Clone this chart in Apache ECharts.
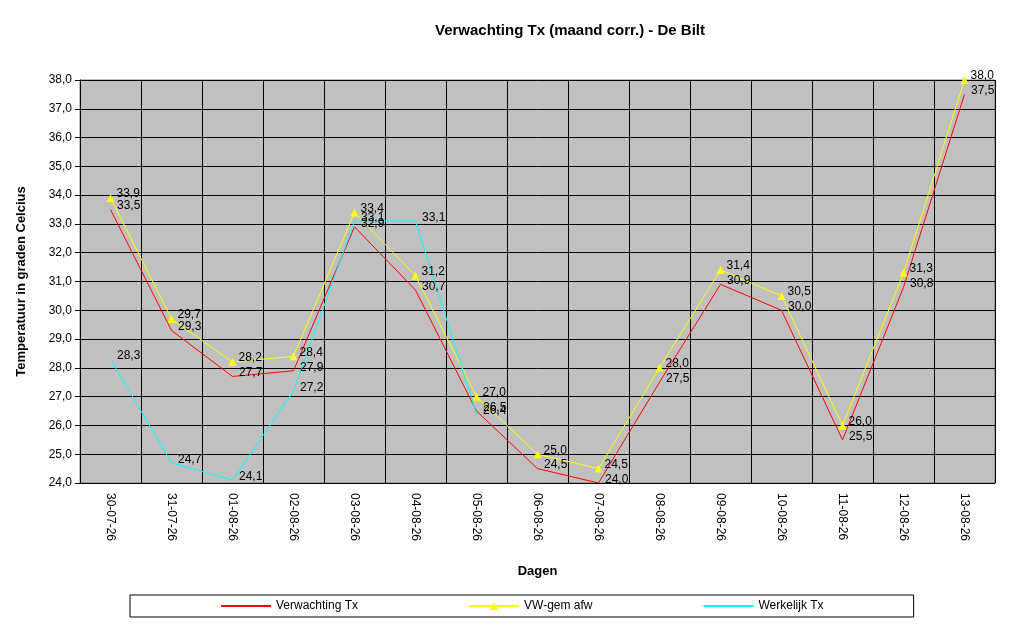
<!DOCTYPE html>
<html><head><meta charset="utf-8">
<script src="https://cdn.jsdelivr.net/npm/echarts@6/dist/echarts.min.js"></script>
<style>html,body{margin:0;padding:0;background:#fff}#c{width:1024px;height:625px}</style>
</head><body><div id="c"></div>
<script>
var dagen = ["30-07-26","31-07-26","01-08-26","02-08-26","03-08-26","04-08-26","05-08-26","06-08-26","07-08-26","08-08-26","09-08-26","10-08-26","11-08-26","12-08-26","13-08-26"];
var verwachting = [33.5,29.3,27.7,27.9,32.9,30.7,26.5,24.5,24.0,27.5,30.9,30.0,25.5,30.8,37.5];
var vwGem = [33.9,29.7,28.2,28.4,33.4,31.2,27.0,25.0,24.5,28.0,31.4,30.5,26.0,31.3,38.0];
var werkelijk = [28.3,24.7,24.1,27.2,33.1,33.1,26.4,null,null,null,null,null,null,null,null];

var chart = echarts.init(document.getElementById("c"));
var fmt = function (v) { return v.toFixed(1).replace(".", ","); };
function serie(name, data, color, symbol, size) {
	return {
		name: name, type: "line", data: data, symbol: symbol, symbolSize: size,
		lineStyle: { color: color, width: 1 }, itemStyle: { color: color },
		label: { show: true, position: [10, -6], fontSize: 12, color: "#000", fontFamily: "Liberation Sans",
			formatter: function (p) { return fmt(p.value); } },
		animation: false
	};
}
var cross = "path://M0,0L10,10M10,0L0,10";
chart.setOption({
	title: { text: "Verwachting Tx (maand corr.) - De Bilt", left: 565, top: 18, textAlign: "center",
		textStyle: { fontSize: 15, fontWeight: "bold", fontFamily: "Liberation Sans", color: "#000" } },
	grid: { left: 80, right: 29, top: 80, bottom: 142, backgroundColor: "#C0C0C0", show: true, borderColor: "#808080" },
	legend: { bottom: 8, left: 130, width: 815, itemGap: 110, itemWidth: 50, itemHeight: 10,
		borderColor: "#000", borderWidth: 1, borderRadius: 0, padding: [5, 90, 5, 90],
		textStyle: { fontSize: 12, fontFamily: "Liberation Sans", color: "#000" } },
	xAxis: { type: "category", data: dagen, boundaryGap: true,
		name: "Dagen", nameLocation: "middle", nameGap: 82,
		nameTextStyle: { fontWeight: "bold", fontSize: 13, fontFamily: "Liberation Sans", color: "#000" },
		axisLine: { lineStyle: { color: "#000" } }, axisTick: { lineStyle: { color: "#000" } },
		axisLabel: { rotate: -90, fontSize: 12, fontFamily: "Liberation Sans", color: "#000", margin: 10 },
		splitLine: { show: true, lineStyle: { color: "#000" } } },
	yAxis: { type: "value", min: 24, max: 38, interval: 1,
		name: "Temperatuur in graden Celcius", nameLocation: "middle", nameGap: 52,
		nameTextStyle: { fontWeight: "bold", fontSize: 13, fontFamily: "Liberation Sans", color: "#000" },
		axisLine: { show: true, lineStyle: { color: "#000" } }, axisTick: { show: true, lineStyle: { color: "#000" } },
		axisLabel: { fontSize: 12, fontFamily: "Liberation Sans", color: "#000", formatter: fmt },
		splitLine: { lineStyle: { color: "#000" } } },
	series: [
		serie("Verwachting Tx", verwachting, "#FF0000", cross, 7),
		serie("VW-gem afw", vwGem, "#FFFF00", "triangle", 8),
		serie("Werkelijk Tx", werkelijk, "#00FFFF", cross, 7)
	]
});
</script></body></html>
